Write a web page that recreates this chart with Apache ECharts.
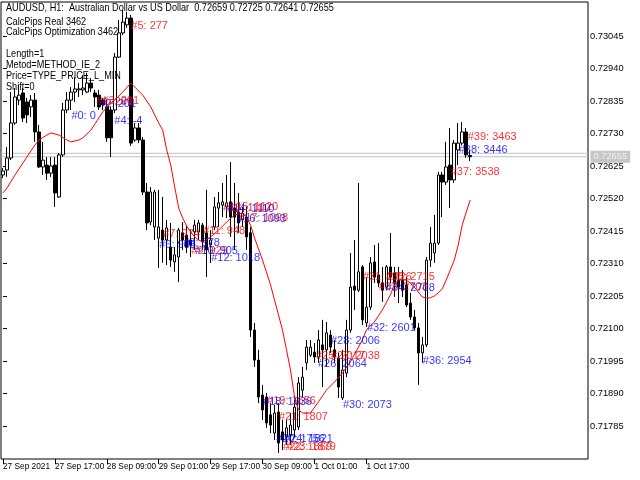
<!DOCTYPE html>
<html><head><meta charset="utf-8">
<script src="https://cdn.jsdelivr.net/npm/echarts@6/dist/echarts.min.js"></script>
<style>html,body{margin:0;padding:0;background:#fff}#c{width:640px;height:480px}</style>
</head><body><div id="c"></div><script>
// ---- data ----
const barCount = 147; // visible bar slots incl. right shift
// [open, close, low, high]
const candles = [
[0.72596,0.72609,0.72586,0.72619],[0.72612,0.72651,0.72590,0.72686],[0.72651,0.72764,0.72644,0.72864],[0.72764,0.72848,0.72758,0.72877],
[0.72838,0.72854,0.72822,0.72887],[0.72861,0.72780,0.72767,0.72877],[0.72832,0.72790,0.72764,0.72845],[0.72816,0.72838,0.72783,0.72854],
[0.72838,0.72735,0.72703,0.72861],[0.72735,0.72622,0.72619,0.72758],[0.72622,0.72644,0.72596,0.72703],[0.72628,0.72602,0.72580,0.72654],
[0.72602,0.72625,0.72590,0.72654],[0.72628,0.72538,0.72493,0.72654],[0.72525,0.72661,0.72522,0.72667],[0.72661,0.72806,0.72654,0.72829],
[0.72806,0.72838,0.72796,0.72864],[0.72838,0.72864,0.72806,0.72880],[0.72864,0.72874,0.72832,0.72913],[0.72871,0.72874,0.72848,0.72893],
[0.72871,0.72877,0.72854,0.72919],[0.72864,0.72893,0.72861,0.72926],[0.72893,0.72877,0.72864,0.72909],[0.72861,0.72848,0.72816,0.72871],
[0.72854,0.72816,0.72806,0.72871],[0.72838,0.72822,0.72806,0.72845],[0.72816,0.72716,0.72703,0.72838],[0.72806,0.72716,0.72654,0.72816],
[0.72806,0.72977,0.72796,0.72990],[0.72977,0.73055,0.72974,0.73097],[0.73055,0.73090,0.73048,0.73129],[0.73081,0.73103,0.73071,0.73123],
[0.73103,0.72699,0.72690,0.73113],[0.72709,0.72748,0.72703,0.72764],[0.72748,0.72709,0.72699,0.72764],[0.72709,0.72541,0.72531,0.72719],
[0.72541,0.72441,0.72418,0.72570],[0.72444,0.72541,0.72434,0.72557],[0.72428,0.72541,0.72386,0.72548],[0.72392,0.72428,0.72296,0.72548],
[0.72418,0.72386,0.72312,0.72525],[0.72386,0.72425,0.72305,0.72451],[0.72363,0.72321,0.72299,0.72441],[0.72315,0.72338,0.72283,0.72363],
[0.72331,0.72418,0.72250,0.72425],[0.72409,0.72386,0.72354,0.72444],[0.72402,0.72363,0.72344,0.72434],[0.72386,0.72370,0.72331,0.72418],
[0.72412,0.72434,0.72354,0.72451],[0.72412,0.72441,0.72386,0.72451],[0.72434,0.72380,0.72354,0.72441],[0.72409,0.72354,0.72266,0.72548],
[0.72370,0.72386,0.72312,0.72418],[0.72428,0.72493,0.72418,0.72525],[0.72489,0.72506,0.72428,0.72541],[0.72499,0.72509,0.72460,0.72570],
[0.72493,0.72506,0.72457,0.72596],[0.72509,0.72460,0.72396,0.72638],[0.72489,0.72460,0.72354,0.72570],[0.72476,0.72441,0.72409,0.72538],
[0.72451,0.72473,0.72428,0.72493],[0.72460,0.72396,0.72354,0.72493],[0.72409,0.72095,0.72073,0.72428],[0.72095,0.71998,0.71976,0.72118],
[0.71998,0.71879,0.71859,0.72031],[0.71885,0.71837,0.71804,0.71918],[0.71879,0.71795,0.71779,0.71892],[0.71821,0.71788,0.71762,0.71859],
[0.71762,0.71827,0.71740,0.71853],[0.71830,0.71730,0.71698,0.71859],[0.71766,0.71740,0.71707,0.71804],[0.71749,0.71779,0.71724,0.71804],
[0.71756,0.71788,0.71724,0.71827],[0.71772,0.71846,0.71749,0.71869],[0.71782,0.71924,0.71772,0.71943],[0.71901,0.71943,0.71879,0.71976],
[0.71989,0.72040,0.71966,0.72063],[0.72014,0.72040,0.72008,0.72063],[0.72024,0.72008,0.71989,0.72053],[0.72008,0.72063,0.71989,0.72095],
[0.72047,0.72031,0.71911,0.72128],[0.72031,0.72086,0.71976,0.72121],[0.72079,0.72040,0.72021,0.72095],[0.72031,0.72008,0.71989,0.72063],
[0.72005,0.71911,0.71876,0.72021],[0.71876,0.71966,0.71869,0.72031],[0.71956,0.72095,0.71943,0.72128],[0.72095,0.72234,0.72086,0.72344],
[0.72237,0.72224,0.72160,0.72386],[0.72224,0.72283,0.72218,0.72570],[0.72299,0.72128,0.72111,0.72305],[0.72118,0.72169,0.72105,0.72266],
[0.72169,0.72312,0.72160,0.72331],[0.72315,0.72266,0.72247,0.72370],[0.72273,0.72247,0.72234,0.72376],[0.72247,0.72224,0.72186,0.72299],
[0.72234,0.72299,0.72224,0.72305],[0.72299,0.72266,0.72247,0.72409],[0.72279,0.72247,0.72202,0.72299],[0.72257,0.72234,0.72182,0.72299],
[0.72257,0.72224,0.72202,0.72289],[0.72241,0.72176,0.72169,0.72266],[0.72182,0.72137,0.72128,0.72215],[0.72137,0.72102,0.72095,0.72160],
[0.72102,0.72021,0.71918,0.72118],[0.72021,0.72047,0.71989,0.72073],[0.72047,0.72321,0.72040,0.72331],[0.72321,0.72376,0.72299,0.72428],
[0.72344,0.72376,0.72312,0.72467],[0.72376,0.72596,0.72370,0.72606],[0.72596,0.72573,0.72460,0.72606],[0.72573,0.72622,0.72564,0.72703],
[0.72628,0.72580,0.72489,0.72748],[0.72580,0.72699,0.72570,0.72709],[0.72677,0.72699,0.72628,0.72764],[0.72699,0.72735,0.72693,0.72767],
[0.72735,0.72661,0.72651,0.72748],[0.72659,0.72655,0.72641,0.72677]
];
// indicator line (red), one value per bar, null where not read
const indicator = [
0.72538,0.72554,null,0.72596,null,0.72635,null,null,0.72693,0.72709,
null,0.72725,0.72732,null,0.72725,null,0.72709,0.72703,null,0.72709,
0.72716,null,0.72741,null,0.72780,0.72800,null,0.72829,0.72838,null,
0.72864,null,0.72893,null,null,0.72854,null,0.72816,null,0.72764,
0.72741,0.72677,0.72628,0.72557,0.72489,0.72457,0.72431,0.72412,0.72396,0.72386,
0.72380,null,0.72396,null,0.72418,null,0.72444,null,0.72467,null,
0.72473,0.72460,0.72434,0.72392,null,0.72321,null,0.72241,0.72192,null,
0.72095,0.72031,0.71966,0.71879,0.71837,0.71827,null,0.71827,null,0.71863,
null,0.71901,null,0.71927,null,0.71956,null,0.71992,null,null,
0.72063,0.72095,null,0.72121,null,0.72160,null,0.72208,0.72241,0.72257,
0.72257,0.72257,0.72247,0.72234,0.72218,0.72202,0.72199,0.72199,0.72205,0.72215,
0.72228,0.72257,0.72289,0.72321,0.72370,0.72434,0.72476,0.72515
];
const tickBars = [0, 13, 26, 39, 52, 65, 78, 91];
const tickLabels = ['27 Sep 2021','27 Sep 17:00','28 Sep 09:00','29 Sep 01:00','29 Sep 17:00','30 Sep 09:00','1 Oct 01:00','1 Oct 17:00'];
const priceTicks = [0.73045,0.72940,0.72835,0.72730,0.72625,0.72520,0.72415,0.72310,0.72205,0.72100,0.71995,0.71890,0.71785];
const bidPrice = 0.72655;
const askPrice = 0.72666;
const redText  = ['#5: 277','#1: 201','#3: 201','#7: 974','#9: 929','#11: 948','#13: 1110','#15: 1120','#17: 1098','#19: 1656','#21: 1807','#22: 1869','#23: 1879','#25: 2017','#27: 2038','#31: 2726','#33: 2703','#35: 2715','#37: 3538','#39: 3463'];
const redBar   = [32,23.25,24.75,40,47,50,55,56.75,59,66,69,70,71,78.25,82,90,94,95.75,112,116.25];
const redPrice = [0.73078,0.72832,0.72835,0.72405,0.72351,0.72415,0.72489,0.72492,0.72457,0.71866,0.71815,0.71717,0.71717,0.72012,0.72012,0.72267,0.72235,0.72267,0.72606,0.72719];
const blueText  = ['#0: 0','#2: 201','#4: -4','#6: 988','#8: 978','#10: 905','#12: 1018','#14: 1110','#16: 1093','#18: 1636','#20: 1756','#24: 1821','#26: 2064','#28: 2006','#30: 2073','#32: 2601','#34: 2708','#36: 2954','#38: 3446'];
const blueBar   = [17,24,27.75,39,45,48,52,56,58.5,65,68.25,70.25,78.75,82,85,91,95.75,105,114];
const bluePrice = [0.72787,0.72825,0.72770,0.72370,0.72377,0.72351,0.72328,0.72486,0.72454,0.71863,0.71743,0.71743,0.71987,0.72061,0.71853,0.72103,0.72231,0.71996,0.72677];
const infoLines = ['AUDUSD, H1:  Australian Dollar vs US Dollar  0.72659 0.72725 0.72641 0.72655','CalcPips Real 3462','CalcPips Optimization 3462','','Length=1','Metod=METHOD_IE_2','Price=TYPE_PRICE_L_MIN','Shift=0'];

// ---- chart ----
const FONT = "'Liberation Sans',Arial,sans-serif";
const cats = Array.from({length: barCount}, (_, i) => String(i));
const mkLabels = (txt, bar, pr) => txt.map((t, i) => ({name: t, value: [bar[i], pr[i]]}));
const infoTop = [2, 16, 26, 37, 48, 59, 70, 81];
const xEnd = barCount - 0.5;

const chart = echarts.init(document.getElementById('c'), null, {renderer: 'canvas'});
chart.setOption({
  animation: false,
  backgroundColor: '#ffffff',
  grid: {left: 0, right: 640 - 4 * barCount, top: 2, bottom: 21, show: true, borderColor: '#000', borderWidth: 1, backgroundColor: '#fff'},
  xAxis: [{
    type: 'category', data: cats, boundaryGap: true,
    axisLine: {show: false},
    axisTick: {show: true, alignWithLabel: true, length: 5, interval: (i) => tickBars.includes(i), lineStyle: {color: '#000'}},
    axisLabel: {show: true, interval: (i) => tickBars.includes(i), align: 'left', margin: 4, hideOverlap: false,
      showMinLabel: true, showMaxLabel: true,
      formatter: (v, i) => tickLabels[tickBars.indexOf(i)] || '',
      fontFamily: FONT, fontSize: 8.3, color: '#000'},
    splitLine: {show: false}
  }, {
    type: 'value', min: -0.5, max: xEnd, show: false
  }],
  yAxis: {
    type: 'value', position: 'right', min: 0.716784, max: 0.731549, scale: true,
    axisLine: {show: false},
    axisTick: {show: true, length: 4, customValues: priceTicks, lineStyle: {color: '#000'}},
    axisLabel: {show: true, customValues: priceTicks, margin: 2, formatter: (v) => v.toFixed(5),
      fontFamily: FONT, fontSize: 9.3, color: '#000'},
    splitLine: {show: false}
  },
  series: [{
    type: 'line', xAxisIndex: 1, data: [[-0.5, askPrice], [xEnd, askPrice]], symbol: 'none', silent: true,
    lineStyle: {color: '#c0c0c0', width: 1}, z: 1
  }, {
    type: 'line', xAxisIndex: 1, data: [[-0.5, bidPrice], [xEnd, bidPrice]], symbol: 'none', silent: true,
    lineStyle: {color: '#c0c0c0', width: 1}, z: 1
  }, {
    type: 'candlestick', data: candles, barWidth: 3,
    itemStyle: {color: '#ffffff', color0: '#000000', borderColor: '#000000', borderColor0: '#000000', borderWidth: 1},
    z: 2
  }, {
    type: 'line', data: indicator, connectNulls: true, symbol: 'none', silent: true,
    lineStyle: {color: '#ff0000', width: 1}, z: 3
  }, {
    type: 'scatter', xAxisIndex: 1, data: mkLabels(redText, redBar, redPrice), symbolSize: 1,
    itemStyle: {color: 'rgba(0,0,0,0)'}, silent: true, z: 4,
    label: {show: true, position: 'right', distance: 0, formatter: '{b}', color: '#ff0000', fontFamily: FONT, fontSize: 11}
  }, {
    type: 'scatter', xAxisIndex: 1, data: mkLabels(blueText, blueBar, bluePrice), symbolSize: 1,
    itemStyle: {color: 'rgba(0,0,0,0)'}, silent: true, z: 5,
    label: {show: true, position: 'right', distance: 0, formatter: '{b}', color: '#0000ff', fontFamily: FONT, fontSize: 11}
  }, {
    type: 'scatter', xAxisIndex: 1, data: [{name: bidPrice.toFixed(5), value: [xEnd, bidPrice]}], symbolSize: 1,
    itemStyle: {color: 'rgba(0,0,0,0)'}, silent: true, z: 6, clip: false,
    label: {show: true, position: 'right', distance: 2, formatter: '{b}', color: '#ffffff', backgroundColor: '#b8b8b8',
      padding: [2, 3, 1, 3], fontFamily: FONT, fontSize: 9.3}
  }],
  graphic: infoLines.map((t, i) => ({
    type: 'text', x: 6, y: infoTop[i], scaleX: 0.83, z: 100, silent: true,
    style: {text: t, fill: '#000', font: "11px " + FONT, verticalAlign: 'top'}
  }))
});
</script></body></html>
